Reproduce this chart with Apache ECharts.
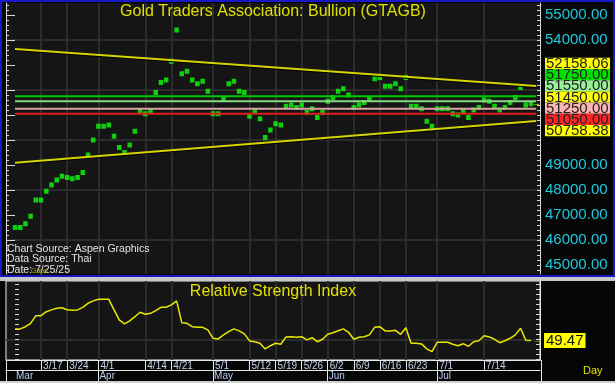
<!DOCTYPE html>
<html><head><meta charset="utf-8">
<script src="https://cdn.jsdelivr.net/npm/echarts@6/dist/echarts.min.js"></script>
<style>html,body{margin:0;padding:0;background:#060606;overflow:hidden}#c{width:615px;height:383px}</style>
</head><body><div id="c"></div>
<script>
// ---------- data ----------
const dates = ['3/10','3/11','3/12','3/13','3/14','3/17','3/18','3/19','3/20','3/21','3/24','3/25','3/26','3/27','3/28','3/31',
'4/1','4/2','4/3','4/4','4/7','4/8','4/9','4/10','4/11','4/14','4/15','4/16','4/17','4/18','4/21','4/22','4/23','4/24','4/25','4/28','4/29','4/30',
'5/1','5/2','5/5','5/6','5/7','5/8','5/9','5/12','5/13','5/14','5/15','5/16','5/19','5/20','5/21','5/22','5/23','5/26','5/27','5/28','5/29','5/30',
'6/2','6/3','6/4','6/5','6/6','6/9','6/10','6/11','6/12','6/13','6/16','6/17','6/18','6/19','6/20','6/23','6/24','6/25','6/26','6/27','6/30',
'7/1','7/2','7/3','7/4','7/7','7/8','7/9','7/10','7/11','7/14','7/15','7/16','7/17','7/18','7/21','7/22','7/23','7/24','7/25'];
const prices = [46500,46500,46650,46950,47600,47600,47950,48200,48400,48550,48500,48450,48500,48700,49400,50000,
50550,50550,50600,50150,49700,49500,49800,50350,51150,51050,51150,51900,52300,52400,53150,54400,52650,52750,52400,52250,52350,51950,
51050,51050,51650,52250,52350,51950,51900,50950,51150,50850,50100,50400,50650,50600,51350,51400,51300,51400,51100,51250,50900,51100,
51550,51700,51950,52050,51800,51300,51400,51500,51650,52450,52500,52150,52150,52250,52050,52500,51350,51350,51250,50750,50550,
51250,51250,51250,51050,51000,51150,50900,51200,51300,51600,51550,51350,51200,51300,51500,51700,52100,51400,51450];
const rsiValues = [55.3,55.3,56.4,58.1,61.9,61.9,63.9,64.8,65.6,65.9,64.9,64.6,64.8,66.1,68.1,69.3,
70.1,70.1,70.1,64.8,59.8,57.8,59.3,61.4,63.6,62.6,63.1,64.4,66.1,66.1,67.3,69.3,58.4,58.1,56.4,56.1,56.1,54.8,
50.6,50.3,52.3,53.9,55.3,54.3,52.8,49.3,48.9,48.1,45.3,46.9,48.1,47.6,51.3,51.4,51.1,51.4,49.8,50.9,48.9,50.1,
52.6,53.4,54.4,55.3,53.6,50.1,51.1,51.4,52.3,56.1,56.4,54.3,54.3,54.6,52.6,55.9,48.1,48.1,47.8,45.3,43.9,
48.6,48.6,48.6,47.6,46.9,47.9,46.6,48.9,49.4,51.9,51.3,50.1,48.4,49.4,50.6,52.3,55.6,49.6,49.47];
const levelValues = [51750, 51550, 51250, 51050];
const upperTrend = [53640, 52158.06];
const lowerTrend = [49092, 50758.38];
const lastPrice = 51450;
const priceTickLabels = [45000, 46000, 47000, 48000, 49000, 54000, 55000];
const priceGridValues = [46000, 48000, 50000, 52000, 54000];
const weekLabels = ['3/17','3/24','4/1','4/14','4/21','5/1','5/12','5/19','5/26','6/2','6/9','6/16','6/23','7/1','7/14'];
const monthNames = ['Mar','Apr','May','Jun','Jul'];
const monthStarts = ['3/10','4/1','5/1','6/2','7/1'];
const rsiMid = 50;

// ---------- layout / style ----------
const W = 615, L = 6, R = 540, MT = 3, MH = 271, RT = 281, RH = 79;
const n = dates.length;
const PAD = 1.73;
const FONT = '"Liberation Sans", Arial, sans-serif';
const levelColors = ['#00c800', '#88d888', '#d8a4a4', '#e01c1c'];
const weekIdx = weekLabels.map(d => dates.indexOf(d));
const monthIdx = monthStarts.map(d => dates.indexOf(d));
const minorP = [], majorP = [];
for (let v = 44800; v <= 55400; v += 200) minorP.push(v);
for (let v = 45000; v <= 55000; v += 1000) majorP.push(v);
const rsiTicks = [];
for (let v = 40; v <= 78; v += 2.5) rsiTicks.push(v);

const chart = echarts.init(document.getElementById('c'), null, {renderer: 'canvas'});
const gridCol = '#2c2c2c';
const xBase = {type: 'value', min: -PAD, max: n - 1 + PAD};
const hidden = {axisLine: {show: false}, axisLabel: {show: false}, axisTick: {show: false}, splitLine: {show: false}};

const series = [];
series.push({type: 'scatter', xAxisIndex: 0, yAxisIndex: 0, data: prices.map((v, i) => [i, v]),
  symbol: 'rect', symbolSize: [4.5, 5], itemStyle: {color: '#0cff0c'}, z: 3, silent: true});
levelValues.forEach((v, k) => series.push({type: 'line', xAxisIndex: 0, yAxisIndex: 0, data: [[0, v], [n, v]],
  symbol: 'none', lineStyle: {color: levelColors[k], width: 2}, z: 4, silent: true}));
[upperTrend, lowerTrend].forEach(t => series.push({type: 'line', xAxisIndex: 0, yAxisIndex: 0, data: [[0, t[0]], [n, t[1]]],
  symbol: 'none', lineStyle: {color: '#d4d400', width: 2, shadowColor: '#000', shadowOffsetY: 1, shadowBlur: 0}, z: 4, silent: true}));
series.push({type: 'line', xAxisIndex: 1, yAxisIndex: 5, data: rsiValues.map((v, i) => [i, v]), symbol: 'none',
  lineStyle: {color: '#e8e800', width: 1.5}, z: 4, silent: true,
  endLabel: {show: true, distance: 2, formatter: p => '{a|→}{b|' + p.value[1].toFixed(2) + '}',
    rich: {a: {color: '#e8e800', fontSize: 10, width: 11, fontFamily: FONT},
           b: {backgroundColor: '#ffff00', color: '#111', fontSize: 15, lineHeight: 13, padding: [0, 2, 0, 2], fontFamily: FONT}}}});

const option = {
  backgroundColor: '#060606',
  animation: false,
  grid: [
    {left: L, width: R - L, top: MT, height: MH, show: true, backgroundColor: '#151515', borderWidth: 0, containLabel: false, outerBoundsMode: 'none'},
    {left: L, width: R - L, top: RT, height: RH, show: true, backgroundColor: '#151515', borderColor: '#e8e8e8', borderWidth: 1, containLabel: false, outerBoundsMode: 'none'}
  ],
  xAxis: [
    Object.assign({}, xBase, hidden, {gridIndex: 0, axisTick: {show: false, customValues: weekIdx},
      splitLine: {show: true, lineStyle: {color: gridCol, width: 2}}}),
    Object.assign({}, xBase, {gridIndex: 1, position: 'bottom', offset: 0,
      axisLine: {show: true, onZero: false, lineStyle: {color: '#e8e8e8', width: 1}},
      axisTick: {show: true, inside: false, length: 10, customValues: weekIdx, lineStyle: {color: '#e8e8e8', width: 1}},
      axisLabel: {show: true, customValues: weekIdx, formatter: v => dates[Math.round(v)], align: 'left', margin: 1,
        padding: [0, 0, 0, 2], color: '#c4d4ec', fontSize: 10, fontFamily: FONT},
      splitLine: {show: true, lineStyle: {color: gridCol, width: 2}}}),
    Object.assign({}, xBase, {gridIndex: 1, position: 'bottom', offset: 10,
      axisLine: {show: true, onZero: false, lineStyle: {color: '#e8e8e8', width: 1}},
      axisTick: {show: true, inside: false, length: 11, customValues: monthIdx.slice(1), lineStyle: {color: '#e8e8e8', width: 1}},
      axisLabel: {show: true, customValues: monthIdx, formatter: v => monthNames[monthIdx.indexOf(Math.round(v))], align: 'left', margin: 1,
        padding: [0, 0, 0, 1], color: '#b4ccf0', fontSize: 10, fontFamily: FONT},
      splitLine: {show: false}}),
    Object.assign({}, xBase, hidden, {gridIndex: 1, position: 'bottom', offset: 21,
      axisLine: {show: true, onZero: false, lineStyle: {color: '#e8e8e8', width: 1}}})
  ],
  yAxis: [
    {gridIndex: 0, type: 'value', position: 'right', offset: 0, min: 44640, max: 55480,
      axisLine: {show: true, onZero: false, lineStyle: {color: '#d8d8d8', width: 1}},
      axisTick: {show: true, inside: true, length: 3, customValues: minorP, lineStyle: {color: '#d8d8d8'}},
      axisLabel: {show: true, customValues: priceTickLabels, formatter: v => v.toFixed(2), color: '#1ec8dc',
        fontSize: 15, margin: 5, fontFamily: FONT},
      splitLine: {show: false}},
    Object.assign({gridIndex: 0, type: 'value', position: 'right', offset: 0, min: 44640, max: 55480}, hidden,
      {axisTick: {show: true, inside: true, length: 6, customValues: majorP, lineStyle: {color: '#d8d8d8'}}}),
    Object.assign({gridIndex: 0, type: 'value', position: 'right', offset: 0, min: 44640, max: 55480}, hidden,
      {axisTick: {show: false, customValues: priceGridValues}, splitLine: {show: true, lineStyle: {color: gridCol, width: 2}}}),
    Object.assign({gridIndex: 0, type: 'value', position: 'left', offset: 0, min: 44640, max: 55480}, hidden,
      {axisLine: {show: true, onZero: false, lineStyle: {color: '#d8d8d8'}},
       axisTick: {show: true, inside: true, length: 3, customValues: minorP, lineStyle: {color: '#d8d8d8'}}}),
    Object.assign({gridIndex: 0, type: 'value', position: 'left', offset: 0, min: 44640, max: 55480}, hidden,
      {axisTick: {show: true, inside: true, length: 6, customValues: majorP, lineStyle: {color: '#d8d8d8'}}}),
    Object.assign({gridIndex: 1, type: 'value', position: 'right', offset: 0, min: 39.75, max: 79.25}, hidden,
      {axisLine: {show: true, onZero: false, lineStyle: {color: '#e8e8e8'}},
       axisTick: {show: true, inside: true, length: 4, customValues: rsiTicks, lineStyle: {color: '#d8d8d8'}}}),
    Object.assign({gridIndex: 1, type: 'value', position: 'right', offset: 0, min: 39.75, max: 79.25}, hidden,
      {axisTick: {show: false, customValues: [rsiMid]}, splitLine: {show: true, lineStyle: {color: gridCol, width: 2}}}),
    Object.assign({gridIndex: 1, type: 'value', position: 'left', offset: 0, min: 39.75, max: 79.25}, hidden,
      {axisTick: {show: true, inside: true, length: 4, customValues: rsiTicks, lineStyle: {color: '#d8d8d8'}}})
  ],
  series: series
};
chart.setOption(option);

// ---------- decorations computed from the chart's scales ----------
const py = v => chart.convertToPixel({yAxisIndex: 0}, v);
const px = i => chart.convertToPixel({xAxisIndex: 0}, i);
const stack = [
  {v: upperTrend[1], bg: '#ffff00'},
  {v: levelValues[0], bg: '#00e000'},
  {v: levelValues[1], bg: '#98f098'},
  {v: lastPrice, bg: '#ffff00'},
  {v: levelValues[2], bg: '#ffb4b4'},
  {v: levelValues[3], bg: '#ff2424'},
  {v: lowerTrend[1], bg: '#ffff00'}
];
const BH = 11.2;
const anchor = py(stack[3].v) - 6.8;
const rects = [], texts = [];
stack.forEach((s, k) => {
  const c = anchor + (k - 3) * BH;
  rects.push({type: 'rect', shape: {x: 545, y: c - BH / 2, width: 65, height: BH}, style: {fill: s.bg}, z: 10});
  texts.push({type: 'text', x: 546, y: c + 0.5, style: {text: s.v.toFixed(2), fill: '#222', font: '15px ' + FONT,
    textVerticalAlign: 'middle', verticalAlign: 'middle'}, z: 11});
});
const mid = (L + R) / 2;
const graphics = [
  {type: 'rect', shape: {x: 0, y: 277, width: W, height: 4}, style: {fill: '#c8c8c8'}, z: 1},
  {type: 'rect', shape: {x: 0, y: 381, width: W, height: 2}, style: {fill: '#d0d0d0'}, z: 1},
  {type: 'rect', shape: {x: 1, y: 1, width: W - 2, height: 275}, style: {fill: 'none', stroke: '#1818c8', lineWidth: 2}, z: 20},
  {type: 'line', shape: {x1: L + 0.5, y1: RT + RH, x2: L + 0.5, y2: 381}, style: {stroke: '#e8e8e8', lineWidth: 1}, z: 5},
  {type: 'line', shape: {x1: R + 1.5, y1: RT + RH, x2: R + 1.5, y2: 381}, style: {stroke: '#e8e8e8', lineWidth: 1}, z: 5},
  {type: 'text', x: mid, y: 12, style: {text: 'Gold Traders Association: Bullion (GTAGB)', fill: '#e0e000', font: '16px ' + FONT,
    textAlign: 'center', textVerticalAlign: 'middle', align: 'center', verticalAlign: 'middle'}, z: 12},
  {type: 'text', x: mid, y: 291.5, style: {text: 'Relative Strength Index', fill: '#e0e000', font: '16px ' + FONT,
    textAlign: 'center', textVerticalAlign: 'middle', align: 'center', verticalAlign: 'middle'}, z: 12},
  {type: 'text', x: 7, y: 249, style: {text: 'Chart Source: Aspen Graphics', fill: '#e4e4e4', font: '10.5px ' + FONT, verticalAlign: 'middle', textVerticalAlign: 'middle'}, z: 12},
  {type: 'text', x: 7, y: 259.5, style: {text: 'Data Source: Thai', fill: '#e4e4e4', font: '10.5px ' + FONT, verticalAlign: 'middle', textVerticalAlign: 'middle'}, z: 12},
  {type: 'text', x: 7, y: 270.5, style: {text: 'Date: 7/25/25', fill: '#e4e4e4', font: '10.5px ' + FONT, verticalAlign: 'middle', textVerticalAlign: 'middle'}, z: 12},
  {type: 'text', x: 31, y: 271.5, style: {text: 'Gaps', fill: '#a8a800', font: '7px ' + FONT, verticalAlign: 'middle', textVerticalAlign: 'middle'}, z: 13},
  {type: 'text', x: 583, y: 371, style: {text: 'Day', fill: '#e0e000', font: '11px ' + FONT, verticalAlign: 'middle', textVerticalAlign: 'middle'}, z: 12},
  {type: 'text', x: px(n - 1) + 1, y: py(lastPrice), style: {text: '→', fill: '#e8e800', font: 'bold 9px ' + FONT, verticalAlign: 'middle', textVerticalAlign: 'middle'}, z: 12}
].concat(rects, texts);
chart.setOption({graphic: graphics});
</script></body></html>
